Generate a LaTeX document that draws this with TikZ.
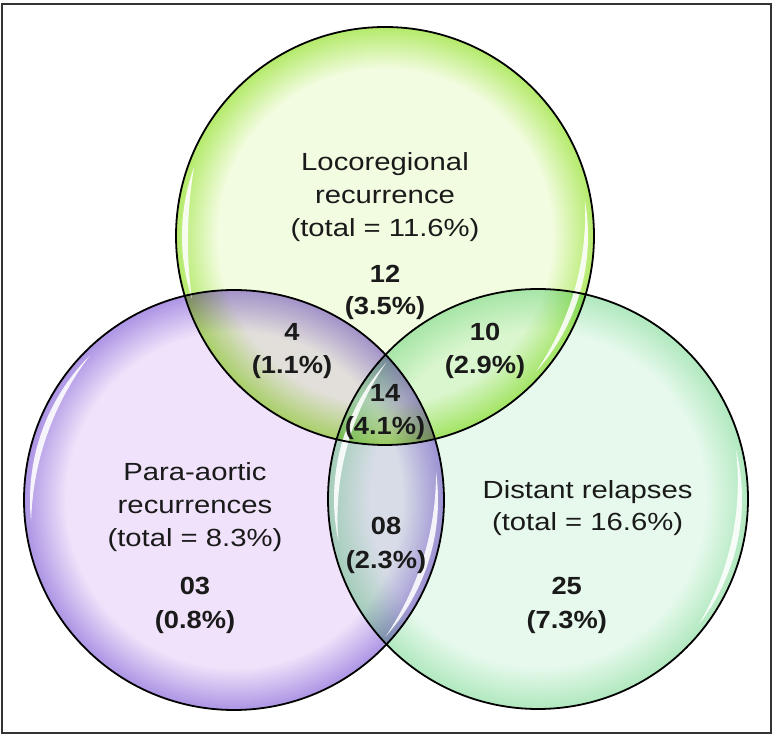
\documentclass[tikz,border=0pt]{standalone}
\usepackage{fontspec}
\setmainfont{Liberation Sans}[UprightFeatures={FakeStretch=1.18}, BoldFeatures={FakeStretch=1.1}]
\usetikzlibrary{calc}
\definecolor{topin}{HTML}{F2FCE0}
\definecolor{topout}{HTML}{B4EA6A}
\definecolor{leftin}{HTML}{EFE2FA}
\definecolor{leftout}{HTML}{AC94E4}
\definecolor{rightin}{HTML}{E6F9EC}
\definecolor{rightout}{HTML}{B0E8BE}
\definecolor{ink}{HTML}{1A1A1A}
\definecolor{framec}{HTML}{333333}
\pgfdeclareradialshading{shTop}{\pgfpoint{0bp}{0bp}}{color(0bp)=(topin); color(20bp)=(topin); color(25bp)=(topout); color(50bp)=(topout)}
\pgfdeclareradialshading{shLeft}{\pgfpoint{0bp}{0bp}}{color(0bp)=(leftin); color(20bp)=(leftin); color(25bp)=(leftout); color(50bp)=(leftout)}
\pgfdeclareradialshading{shRight}{\pgfpoint{0bp}{0bp}}{color(0bp)=(rightin); color(20bp)=(rightin); color(25bp)=(rightout); color(50bp)=(rightout)}
\def\glossT{6}
\newcommand\glossarc[5]{%
  \pgfmathsetmacro\gm{(#4+#5)/2}%
  \pgfmathsetmacro\ga{(#5-#4)/2}%
  \pgfmathsetmacro\gd{-\glossT*(2*#3-\glossT)/(2*(#3-\glossT-#3*cos(\ga)))}%
  \pgfmathsetmacro\gR{#3-\glossT-\gd}%
  \pgfmathsetmacro\gb{atan2(#3*sin(\ga), #3*cos(\ga)-\gd)}%
  \fill[glossy] ({#1+#3*cos(#4)},{#2+#3*sin(#4)}) arc[start angle=#4, end angle=#5, radius=#3]
     arc[start angle=\gm+\gb, end angle=\gm-\gb, radius=\gR] -- cycle;}
\tikzset{
  glossy/.style={white, opacity=0.88},
  ring/.style={draw=black, line width=1.8pt},
  lbl/.style={anchor=base, text=ink, inner sep=0pt, font=\fontsize{24.8}{30}\selectfont},
  num/.style={anchor=base, text=ink, inner sep=0pt, font=\fontsize{24.8}{30}\selectfont\bfseries}
}
\begin{document}
\begin{tikzpicture}[x=1pt, y=1pt]
\useasboundingbox (0,0) rectangle (776,736);
\fill[white] (0,0) rectangle (776,736);
\begin{scope}[blend mode=multiply]
  \shade[shading=shLeft] (234,236) circle (210);
  \shade[shading=shRight] (538,237) circle (210);
  \shade[shading=shTop] (385,500) circle (209);
\end{scope}
\glossarc{385}{500}{203}{160}{198}
\glossarc{385}{500}{203}{-42}{10}
\glossarc{234}{236}{204}{135}{186}
\glossarc{234}{236}{204}{-42}{8}
\glossarc{538}{237}{204}{138}{192}
\glossarc{538}{237}{204}{-38}{14}
\draw[ring] (234,236) circle (210);
\draw[ring] (538,237) circle (210);
\draw[ring] (385,500) circle (209);
\draw[framec, line width=2pt] (2,3) rectangle (771,732);
% top circle
\node[lbl] (t1) at (385,565.3) {Locoregional};
\node[lbl] (t2) at (385,532.7) {recurrence};
\node[lbl] (t3) at (385,499.3) {(total = 11.6\%)};
\node[num] (t4) at (385,453.7) {12};
\node[num] (t5) at (385,421) {(3.5\%)};
% top-left overlap
\node[num] (tl1) at (292,395.5) {4};
\node[num] (tl2) at (292,362.7) {(1.1\%)};
% top-right overlap
\node[num] (tr1) at (485,395.5) {10};
\node[num] (tr2) at (485,362.7) {(2.9\%)};
% centre
\node[num] (c1) at (385,334.3) {14};
\node[num] (c2) at (385,301) {(4.1\%)};
% left circle
\node[lbl] (l1) at (195,255) {Para-aortic};
\node[lbl] (l2) at (195,222.7) {recurrences};
\node[lbl] (l3) at (195,189.3) {(total = 8.3\%)};
\node[num] (l4) at (195,141) {03};
\node[num] (l5) at (195,107.7) {(0.8\%)};
% left-right overlap
\node[num] (lr1) at (386,201) {08};
\node[num] (lr2) at (386,167.7) {(2.3\%)};
% right circle
\node[lbl] (r1) at (587.6,237.7) {Distant relapses};
\node[lbl] (r2) at (587.6,205.3) {(total = 16.6\%)};
\node[num] (r3) at (566.7,141) {25};
\node[num] (r4) at (566.7,107.7) {(7.3\%)};
\end{tikzpicture}
\end{document}
